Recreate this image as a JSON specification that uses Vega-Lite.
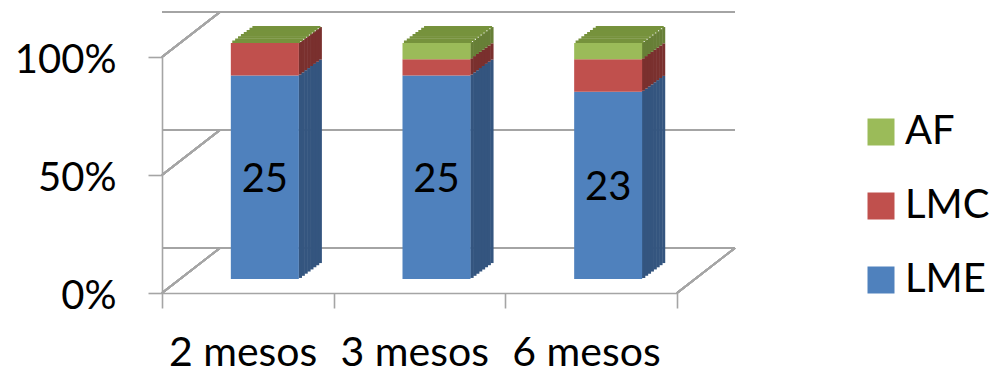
{
  "$schema": "https://vega.github.io/schema/vega-lite/v6.json",
  "width": 515,
  "height": 236,
  "autosize": "none",
  "padding": {"left": 162, "top": 57, "right": 319, "bottom": 81},
  "background": "white",
  "data": {
    "values": [
      {"mes": "2 mesos", "serie": "LME", "n": 25},
      {"mes": "2 mesos", "serie": "LMC", "n": 4},
      {"mes": "2 mesos", "serie": "AF", "n": 0},
      {"mes": "3 mesos", "serie": "LME", "n": 25},
      {"mes": "3 mesos", "serie": "LMC", "n": 2},
      {"mes": "3 mesos", "serie": "AF", "n": 2},
      {"mes": "6 mesos", "serie": "LME", "n": 23},
      {"mes": "6 mesos", "serie": "LMC", "n": 4},
      {"mes": "6 mesos", "serie": "AF", "n": 2}
    ]
  },
  "config": {
    "view": {"stroke": null},
    "font": "Lato",
    "axis": {
      "labelFont": "Lato",
      "labelFontSize": 40,
      "labelColor": "black",
      "domainColor": "#a5a5a5",
      "domainWidth": 1.6,
      "tickColor": "#a5a5a5",
      "tickWidth": 1.6,
      "grid": false,
      "title": null
    }
  },
  "layer": [
    {"mark": {"type": "rule", "color": "#a5a5a5", "strokeWidth": 1.6, "xOffset": 58, "x2Offset": 58, "yOffset": -45}, "encoding": {"y": {"datum": 0}}},
    {"mark": {"type": "rule", "color": "#a5a5a5", "strokeWidth": 1.6, "xOffset": 58, "x2Offset": 58, "yOffset": -45}, "encoding": {"y": {"datum": 0.5}}},
    {"mark": {"type": "rule", "color": "#a5a5a5", "strokeWidth": 1.6, "xOffset": 58, "x2Offset": 58, "yOffset": -45}, "encoding": {"y": {"datum": 1}}},
    {"mark": {"type": "rule", "color": "#a5a5a5", "strokeWidth": 1.6, "x2Offset": 58, "y2Offset": -45},
     "encoding": {"x": {"datum": "2 mesos", "bandPosition": 0}, "x2": {"datum": "2 mesos", "bandPosition": 0}, "y": {"datum": 0}, "y2": {"datum": 0}}},
    {"mark": {"type": "rule", "color": "#a5a5a5", "strokeWidth": 1.6, "x2Offset": 58, "y2Offset": -45},
     "encoding": {"x": {"datum": "2 mesos", "bandPosition": 0}, "x2": {"datum": "2 mesos", "bandPosition": 0}, "y": {"datum": 0.5}, "y2": {"datum": 0.5}}},
    {"mark": {"type": "rule", "color": "#a5a5a5", "strokeWidth": 1.6, "x2Offset": 58, "y2Offset": -45},
     "encoding": {"x": {"datum": "2 mesos", "bandPosition": 0}, "x2": {"datum": "2 mesos", "bandPosition": 0}, "y": {"datum": 1}, "y2": {"datum": 1}}},
    {"mark": {"type": "rule", "color": "#a5a5a5", "strokeWidth": 1.6, "x2Offset": 58, "y2Offset": -45},
     "encoding": {"x": {"datum": "6 mesos", "bandPosition": 1}, "x2": {"datum": "6 mesos", "bandPosition": 1}, "y": {"datum": 0}, "y2": {"datum": 0}}},

    {"mark": {"type": "bar", "width": 3.4, "xOffset": 52.44, "yOffset": -15.06, "y2Offset": -15.06},
     "encoding": {"x": {"field": "mes", "type": "nominal"}, "y": {"field": "n", "type": "quantitative", "stack": "normalize"}, "order": {"field": "serie", "sort": "descending"}, "detail": {"field": "serie"},
       "fill": {"condition": [{"test": "datum.serie == 'LME'", "value": "#34557f"}, {"test": "datum.serie == 'LMC'", "value": "#7a302e"}], "value": "#677f37"}}},
    {"mark": {"type": "bar", "width": 3.4, "xOffset": 55.31, "yOffset": -17.19, "y2Offset": -17.19},
     "encoding": {"x": {"field": "mes", "type": "nominal"}, "y": {"field": "n", "type": "quantitative", "stack": "normalize"}, "order": {"field": "serie", "sort": "descending"}, "detail": {"field": "serie"},
       "fill": {"condition": [{"test": "datum.serie == 'LME'", "value": "#34557f"}, {"test": "datum.serie == 'LMC'", "value": "#7a302e"}], "value": "#677f37"}}},
    {"mark": {"type": "bar", "width": 3.4, "xOffset": 58.19, "yOffset": -19.31, "y2Offset": -19.31},
     "encoding": {"x": {"field": "mes", "type": "nominal"}, "y": {"field": "n", "type": "quantitative", "stack": "normalize"}, "order": {"field": "serie", "sort": "descending"}, "detail": {"field": "serie"},
       "fill": {"condition": [{"test": "datum.serie == 'LME'", "value": "#34557f"}, {"test": "datum.serie == 'LMC'", "value": "#7a302e"}], "value": "#677f37"}}},
    {"mark": {"type": "bar", "width": 3.4, "xOffset": 61.06, "yOffset": -21.44, "y2Offset": -21.44},
     "encoding": {"x": {"field": "mes", "type": "nominal"}, "y": {"field": "n", "type": "quantitative", "stack": "normalize"}, "order": {"field": "serie", "sort": "descending"}, "detail": {"field": "serie"},
       "fill": {"condition": [{"test": "datum.serie == 'LME'", "value": "#34557f"}, {"test": "datum.serie == 'LMC'", "value": "#7a302e"}], "value": "#677f37"}}},
    {"mark": {"type": "bar", "width": 3.4, "xOffset": 63.94, "yOffset": -23.56, "y2Offset": -23.56},
     "encoding": {"x": {"field": "mes", "type": "nominal"}, "y": {"field": "n", "type": "quantitative", "stack": "normalize"}, "order": {"field": "serie", "sort": "descending"}, "detail": {"field": "serie"},
       "fill": {"condition": [{"test": "datum.serie == 'LME'", "value": "#34557f"}, {"test": "datum.serie == 'LMC'", "value": "#7a302e"}], "value": "#677f37"}}},
    {"mark": {"type": "bar", "width": 3.4, "xOffset": 66.81, "yOffset": -25.69, "y2Offset": -25.69},
     "encoding": {"x": {"field": "mes", "type": "nominal"}, "y": {"field": "n", "type": "quantitative", "stack": "normalize"}, "order": {"field": "serie", "sort": "descending"}, "detail": {"field": "serie"},
       "fill": {"condition": [{"test": "datum.serie == 'LME'", "value": "#34557f"}, {"test": "datum.serie == 'LMC'", "value": "#7a302e"}], "value": "#677f37"}}},
    {"mark": {"type": "bar", "width": 3.4, "xOffset": 69.69, "yOffset": -27.81, "y2Offset": -27.81},
     "encoding": {"x": {"field": "mes", "type": "nominal"}, "y": {"field": "n", "type": "quantitative", "stack": "normalize"}, "order": {"field": "serie", "sort": "descending"}, "detail": {"field": "serie"},
       "fill": {"condition": [{"test": "datum.serie == 'LME'", "value": "#34557f"}, {"test": "datum.serie == 'LMC'", "value": "#7a302e"}], "value": "#677f37"}}},
    {"mark": {"type": "bar", "width": 3.0, "xOffset": 72.56, "yOffset": -29.94, "y2Offset": -29.94},
     "encoding": {"x": {"field": "mes", "type": "nominal"}, "y": {"field": "n", "type": "quantitative", "stack": "normalize"}, "order": {"field": "serie", "sort": "descending"}, "detail": {"field": "serie"},
       "fill": {"condition": [{"test": "datum.serie == 'LME'", "value": "#34557f"}, {"test": "datum.serie == 'LMC'", "value": "#7a302e"}], "value": "#677f37"}}},

    {"transform": [{"filter": "datum.serie == 'AF'"}], "mark": {"type": "bar", "color": "#76923c", "width": 68, "xOffset": 18.44, "yOffset": -14, "y2Offset": -16.5},
     "encoding": {"x": {"field": "mes", "type": "nominal"}, "y": {"datum": 1}, "y2": {"datum": 1}}},
    {"transform": [{"filter": "datum.serie == 'AF'"}], "mark": {"type": "bar", "color": "#76923c", "width": 68, "xOffset": 21.31, "yOffset": -16.12, "y2Offset": -18.6},
     "encoding": {"x": {"field": "mes", "type": "nominal"}, "y": {"datum": 1}, "y2": {"datum": 1}}},
    {"transform": [{"filter": "datum.serie == 'AF'"}], "mark": {"type": "bar", "color": "#76923c", "width": 68, "xOffset": 24.19, "yOffset": -18.25, "y2Offset": -20.7},
     "encoding": {"x": {"field": "mes", "type": "nominal"}, "y": {"datum": 1}, "y2": {"datum": 1}}},
    {"transform": [{"filter": "datum.serie == 'AF'"}], "mark": {"type": "bar", "color": "#76923c", "width": 68, "xOffset": 27.06, "yOffset": -20.37, "y2Offset": -22.9},
     "encoding": {"x": {"field": "mes", "type": "nominal"}, "y": {"datum": 1}, "y2": {"datum": 1}}},
    {"transform": [{"filter": "datum.serie == 'AF'"}], "mark": {"type": "bar", "color": "#76923c", "width": 68, "xOffset": 29.94, "yOffset": -22.5, "y2Offset": -25.0},
     "encoding": {"x": {"field": "mes", "type": "nominal"}, "y": {"datum": 1}, "y2": {"datum": 1}}},
    {"transform": [{"filter": "datum.serie == 'AF'"}], "mark": {"type": "bar", "color": "#76923c", "width": 68, "xOffset": 32.81, "yOffset": -24.62, "y2Offset": -27.1},
     "encoding": {"x": {"field": "mes", "type": "nominal"}, "y": {"datum": 1}, "y2": {"datum": 1}}},
    {"transform": [{"filter": "datum.serie == 'AF'"}], "mark": {"type": "bar", "color": "#76923c", "width": 68, "xOffset": 35.69, "yOffset": -26.75, "y2Offset": -29.2},
     "encoding": {"x": {"field": "mes", "type": "nominal"}, "y": {"datum": 1}, "y2": {"datum": 1}}},
    {"transform": [{"filter": "datum.serie == 'AF'"}], "mark": {"type": "bar", "color": "#76923c", "width": 68, "xOffset": 38.56, "yOffset": -28.87, "y2Offset": -31.0},
     "encoding": {"x": {"field": "mes", "type": "nominal"}, "y": {"datum": 1}, "y2": {"datum": 1}}},

    {"mark": {"type": "bar", "width": 68, "xOffset": 17, "yOffset": -14, "y2Offset": -14},
     "encoding": {
       "x": {"field": "mes", "type": "nominal", "scale": {"paddingInner": 0, "paddingOuter": 0},
         "axis": {"labelAngle": 0, "tickBand": "extent", "tickSize": 15, "labelPadding": 57, "labelBaseline": "alphabetic", "labelFontSize": 41, "labelOffset": 69}},
       "y": {"field": "n", "type": "quantitative", "stack": "normalize",
         "scale": {"domain": [0, 1], "nice": false},
         "axis": {"values": [0, 0.5, 1], "format": "%", "tickSize": 14, "labelPadding": 32, "labelFlush": false, "labelOverlap": false, "labelOffset": 3}},
       "order": {"field": "serie", "sort": "descending"},
       "color": {"field": "serie", "type": "nominal",
         "scale": {"domain": ["AF", "LMC", "LME"], "range": ["#9bbb59", "#c0504d", "#4f81bd"]},
         "legend": {"title": null, "orient": "none", "legendX": 699, "legendY": 55, "padding": 0,
           "symbolType": "square", "symbolSize": 729, "symbolStrokeWidth": 0, "symbolOpacity": 1,
           "labelFont": "Lato", "labelFontSize": 40, "labelColor": "black", "labelOffset": 4, "rowPadding": 34, "labelLimit": 200}}
     }},

    {"transform": [
       {"stack": "n", "groupby": ["mes"], "offset": "normalize", "sort": [{"field": "serie", "order": "descending"}], "as": ["y0", "y1"]},
       {"filter": "datum.serie == 'LME'"},
       {"fold": ["y0", "y1"], "as": ["k", "v"]},
       {"aggregate": [{"op": "mean", "field": "v", "as": "mid"}], "groupby": ["mes", "n"]}
     ],
     "mark": {"type": "text", "font": "Lato", "fontSize": 40, "color": "black", "align": "center", "baseline": "middle", "xOffset": 17, "yOffset": -11},
     "encoding": {"x": {"field": "mes", "type": "nominal"}, "y": {"field": "mid", "type": "quantitative"}, "text": {"field": "n", "type": "quantitative"}}}
  ]
}
